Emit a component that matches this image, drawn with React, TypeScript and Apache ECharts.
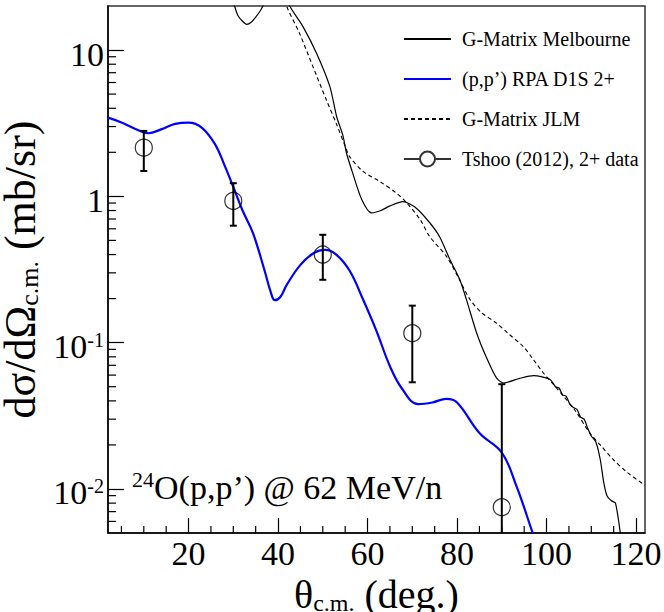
import React, { useEffect, useRef } from 'react';
import * as echarts from 'echarts';

const FONT = 'Times New Roman';
const FORCE_CSS = '#chart-host svg text, #chart-host svg tspan { font-family: "Liberation Serif", "Times New Roman", serif !important; }';

const NAME_MELB = 'G-Matrix Melbourne';
const NAME_RPA = '(p,p\u2019) RPA D1S 2+';
const NAME_JLM = 'G-Matrix JLM';
const NAME_DATA = 'Tshoo (2012), 2+ data';

const X_MIN = 2;
const X_MAX = 122;
const Y_MIN = 0.005;
const Y_MAX = 20;

// G-Matrix Melbourne (solid black)
const melbTheta = [26, 30.3, 31, 32, 33, 34, 35, 36, 36.6, 38.5, 40.5, 42.6, 45.6, 48.6, 51.6, 53.1, 54.5, 55.3, 56.5, 58.7, 60.9, 63, 65, 67.9, 70.9, 73.9, 76.1, 78.4, 80.6, 82.1, 84.4, 86.5, 88.8, 90.4, 94, 97.1, 100.8, 102, 102.8, 103.6, 104.4, 105.2, 106, 106.8, 107.6, 108.4, 109.2, 110, 111, 112, 112.8, 113.5, 114.5, 115.4, 116.5, 117];
const melbValue = [60, 20, 17.3, 15.8, 15, 15.5, 16.8, 18.5, 20, 28, 28, 20, 14.4, 9.5, 5.6, 3.5, 2.6, 1.97, 1.5, 0.95, 0.77, 0.8, 0.86, 0.92, 0.83, 0.66, 0.53, 0.37, 0.27, 0.197, 0.116, 0.08, 0.0574, 0.053, 0.057, 0.0595, 0.056, 0.05, 0.049, 0.044, 0.043, 0.038, 0.036, 0.035, 0.031, 0.03, 0.026, 0.023, 0.021, 0.0159, 0.011, 0.009, 0.0083, 0.008, 0.005, 0.004];

// (p,p') RPA D1S 2+ (blue)
const rpaTheta = [2, 5, 8, 11, 14, 17, 20, 23, 26, 28, 30, 32, 34.4, 37, 38.3, 39.3, 40.5, 42, 45, 48, 50.5, 53, 56, 59, 62, 65, 67.6, 71.3, 74.5, 77.6, 80, 85, 90, 93.3, 96.9, 98];
const rpaValue = [3.45, 3.2, 2.9, 2.7, 2.88, 3.13, 3.19, 2.94, 2.25, 1.64, 1.16, 0.81, 0.56, 0.31, 0.225, 0.195, 0.205, 0.25, 0.34, 0.41, 0.43, 0.4, 0.31, 0.197, 0.12, 0.069, 0.049, 0.038, 0.039, 0.0413, 0.039, 0.0241, 0.0177, 0.0104, 0.005, 0.004];

// G-Matrix JLM (dashed black)
const jlmTheta = [40, 41.9, 44.8, 47.8, 50.8, 53.1, 55, 56, 59, 62.8, 66.5, 68.8, 71.8, 73.9, 77.6, 80, 82.9, 85.5, 88.8, 91.5, 94.8, 97, 99.3, 101.5, 103.8, 106.5, 109.7, 112, 114.9, 118, 122];
const jlmValue = [30, 20, 13, 7.7, 4.56, 3.1, 2.2, 1.87, 1.48, 1.26, 1.05, 0.9, 0.69, 0.53, 0.39, 0.29, 0.197, 0.16, 0.136, 0.115, 0.094, 0.077, 0.062, 0.052, 0.043, 0.034, 0.024, 0.02, 0.0159, 0.013, 0.0106];

// Tshoo (2012) 2+ data
const dataTheta = [10, 30, 50, 70, 90];
const dataValue = [2.15, 0.93, 0.4, 0.116, 0.0075];
const dataHigh = [2.8, 1.23, 0.546, 0.179, 0.052];
const dataLow = [1.49, 0.63, 0.269, 0.0536, 0.001];

// axis minor ticks
const xMinorTicks = [5, 10, 15, 25, 30, 35, 45, 50, 55, 65, 70, 75, 85, 90, 95, 105, 110, 115];
const yMinorTicks = [0.006, 0.007, 0.008, 0.009, 0.02, 0.03, 0.04, 0.05, 0.06, 0.07, 0.08, 0.09, 0.2, 0.3, 0.4, 0.5, 0.6, 0.7, 0.8, 0.9, 2, 3, 4, 5, 6, 7, 8, 9];

const zip = (a: number[], b: number[]) => a.map((v, i) => [v, b[i]]);

export default function App() {
  const ref = useRef<HTMLDivElement>(null);

  useEffect(() => {
    if (!ref.current) return;
    const chart = echarts.init(ref.current, null, { renderer: 'svg' });

    const hideSym = { opacity: 0 };

    const option: any = {
      animation: false,
      backgroundColor: '#fff',
      textStyle: { fontFamily: FONT, fontWeight: 'normal', fontStyle: 'normal' },
      grid: {
        left: 108,
        top: 6,
        right: 19,
        bottom: 79,
        show: true,
        borderColor: '#333',
        borderWidth: 1.5,
        containLabel: false,
        outerBoundsMode: 'none',
      },
      legend: {
        orient: 'vertical',
        left: 398,
        top: 24,
        itemWidth: 47,
        itemHeight: 16,
        itemGap: 20,
        selectedMode: false,
        textStyle: { fontFamily: FONT, fontSize: 20, color: '#000', padding: [0, 0, 0, 6] },
        data: [
          { name: NAME_MELB, itemStyle: hideSym },
          { name: NAME_RPA, itemStyle: hideSym },
          { name: NAME_JLM, itemStyle: hideSym },
          {
            name: NAME_DATA,
            icon: 'path://M0,9 L16,9 M31,9 L47,9 M16,9 A7.5,7.5 0 1 0 31,9 A7.5,7.5 0 1 0 16,9',
            itemStyle: { color: 'transparent', borderColor: '#000', borderWidth: 2 },
          },
        ],
      },
      xAxis: {
        type: 'value',
        min: X_MIN,
        max: X_MAX,
        splitNumber: 6,
        splitLine: { show: false },
        axisLine: { show: true, onZero: false, lineStyle: { color: '#000', width: 1.5 } },
        axisTick: { show: true, inside: true, length: 15, lineStyle: { color: '#000', width: 1.2 } },
        axisLabel: {
          showMinLabel: false,
          showMaxLabel: false,
          margin: 3,
          fontFamily: FONT,
          fontSize: 34,
          color: '#000',
        },
        name: '{m|\u03b8}{s|c.m.}{m| (deg.)}',
        nameLocation: 'middle',
        nameGap: 31,
        nameTextStyle: {
          color: '#000',
          fontFamily: FONT,
          fontSize: 40,
          rich: {
            m: { fontFamily: FONT, fontSize: 40, lineHeight: 40, color: '#000' },
            s: { fontFamily: FONT, fontSize: 24, lineHeight: 11, verticalAlign: 'bottom', color: '#000' },
          },
        },
      },
      yAxis: {
        type: 'log',
        logBase: 10,
        min: Y_MIN,
        max: Y_MAX,
        splitLine: { show: false },
        axisLine: { show: true, onZero: false, lineStyle: { color: '#000', width: 1.5 } },
        axisTick: { show: true, inside: true, length: 16, lineStyle: { color: '#000', width: 1.2 } },
        axisLabel: {
          showMinLabel: false,
          showMaxLabel: false,
          margin: 4,
          padding: [8, 0, 0, 0],
          color: '#000',
          fontFamily: FONT,
          fontSize: 34,
          formatter: (v: number) => {
            const e = Math.round(Math.log10(v));
            if (e === 1) return '{m|10}';
            if (e === 0) return '{m|1}';
            return '{m|10}{s|' + e + '}';
          },
          rich: {
            m: { fontFamily: FONT, fontSize: 34, lineHeight: 34, color: '#000' },
            s: { fontFamily: FONT, fontSize: 20, lineHeight: 16, verticalAlign: 'top', color: '#000' },
          },
        },
        name: '{m|d\u03c3/d\u03a9}{s|c.m.}{m| (mb/sr)}',
        nameLocation: 'middle',
        nameRotate: 90,
        nameGap: 54,
        nameTextStyle: {
          color: '#000',
          fontFamily: FONT,
          fontSize: 44,
          rich: {
            m: { fontFamily: FONT, fontSize: 44, lineHeight: 44, color: '#000' },
            s: { fontFamily: FONT, fontSize: 26, lineHeight: 20, verticalAlign: 'bottom', color: '#000' },
          },
        },
      },
      graphic: [
        {
          type: 'text',
          left: 132,
          top: 468,
          style: {
            text: '{s|24}{m|O(p,p\u2019) @ 62 MeV/n}',
            fill: '#000',
            fontFamily: FONT,
            fontSize: 34,
            rich: {
              s: { fontFamily: FONT, fontSize: 22, lineHeight: 8, verticalAlign: 'top', fill: '#000' },
              m: { fontFamily: FONT, fontSize: 34, lineHeight: 38, fill: '#000' },
            },
          },
        },
      ],
      series: [
        {
          name: NAME_MELB,
          type: 'line',
          data: zip(melbTheta, melbValue),
          showSymbol: false,
          symbol: 'none',
          smooth: 0.25,
          clip: true,
          lineStyle: { color: '#000', width: 1.2 },
          itemStyle: { color: '#000' },
          z: 3,
        },
        {
          name: NAME_RPA,
          type: 'line',
          data: zip(rpaTheta, rpaValue),
          showSymbol: false,
          symbol: 'none',
          smooth: 0.4,
          clip: true,
          lineStyle: { color: '#0000ff', width: 2.2 },
          itemStyle: { color: '#0000ff' },
          z: 3,
        },
        {
          name: NAME_JLM,
          type: 'line',
          data: zip(jlmTheta, jlmValue),
          showSymbol: false,
          symbol: 'none',
          smooth: 0.3,
          clip: true,
          lineStyle: { color: '#000', width: 1.1, type: [4, 3] },
          itemStyle: { color: '#000' },
          z: 3,
        },
        {
          name: 'errorbars',
          type: 'custom',
          clip: true,
          data: dataTheta.map((t, i) => [t, dataLow[i], dataHigh[i]]),
          encode: { x: 0, y: [1, 2] },
          renderItem: (params: any, api: any) => {
            const x = api.value(0);
            const pHi = api.coord([x, api.value(2)]);
            const pLo = api.coord([x, api.value(1)]);
            const st = { stroke: '#000', lineWidth: 2 };
            return {
              type: 'group',
              children: [
                { type: 'line', shape: { x1: pHi[0], y1: pHi[1], x2: pLo[0], y2: pLo[1] }, style: st },
                { type: 'line', shape: { x1: pHi[0] - 3.5, y1: pHi[1], x2: pHi[0] + 3.5, y2: pHi[1] }, style: st },
                { type: 'line', shape: { x1: pLo[0] - 3.5, y1: pLo[1], x2: pLo[0] + 3.5, y2: pLo[1] }, style: st },
              ],
            };
          },
          z: 4,
        },
        {
          name: NAME_DATA,
          type: 'scatter',
          data: zip(dataTheta, dataValue),
          symbol: 'circle',
          symbolSize: 17,
          itemStyle: { color: 'transparent', borderColor: '#000', borderWidth: 1.2 },
          z: 5,
        },
        {
          name: 'xMinor',
          type: 'custom',
          data: xMinorTicks.map((v) => [v, Y_MIN]),
          renderItem: (params: any, api: any) => {
            const p = api.coord([api.value(0), api.value(1)]);
            return {
              type: 'line',
              shape: { x1: p[0], y1: p[1], x2: p[0], y2: p[1] - 7 },
              style: { stroke: '#000', lineWidth: 1.2 },
            };
          },
          z: 6,
        },
        {
          name: 'yMinor',
          type: 'custom',
          data: yMinorTicks.map((v) => [X_MIN, v]),
          renderItem: (params: any, api: any) => {
            const p = api.coord([api.value(0), api.value(1)]);
            return {
              type: 'line',
              shape: { x1: p[0], y1: p[1], x2: p[0] + 8, y2: p[1] },
              style: { stroke: '#000', lineWidth: 1.2 },
            };
          },
          z: 6,
        },
      ],
    };

    chart.setOption(option);
    return () => {
      chart.dispose();
    };
  }, []);

  return (
    <div>
      <style>{FORCE_CSS}</style>
      <div
        id="chart-host"
        ref={ref}
        style={{ position: 'fixed', left: 0, top: 0, width: 664, height: 612 }}
      />
    </div>
  );
}
